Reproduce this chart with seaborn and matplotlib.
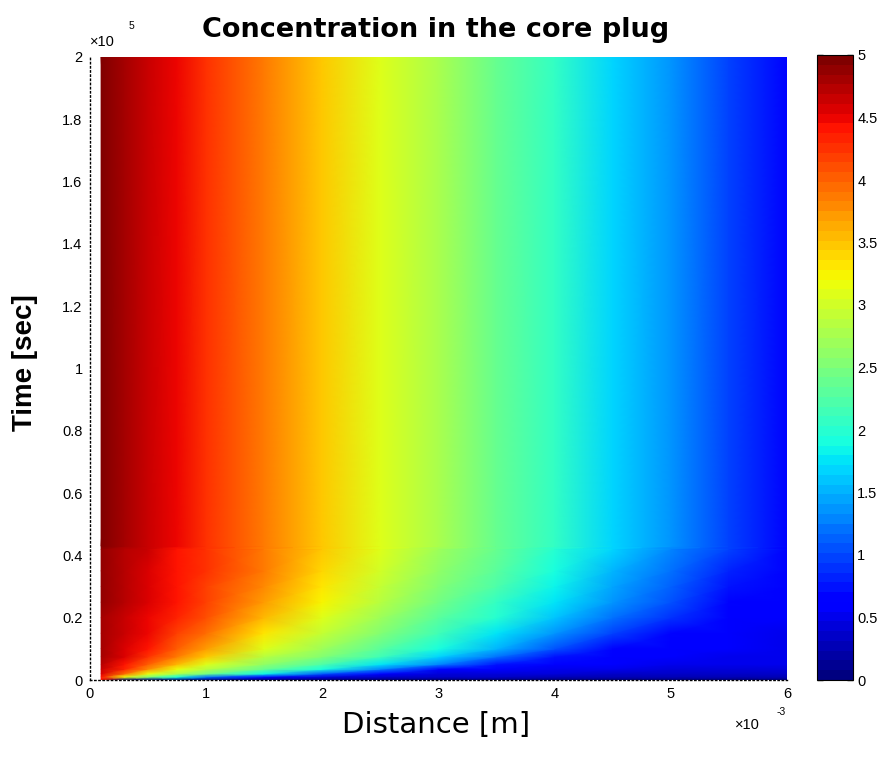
import numpy as np
import matplotlib
matplotlib.use("Agg")
import matplotlib.pyplot as plt
from matplotlib.colors import ListedColormap
import seaborn as sns

# ---------------- data ----------------
# distance nodes [m]
distance_m = [0.1e-3, 0.3e-3, 0.5e-3, 0.75e-3, 1.0e-3, 1.5e-3, 2.0e-3, 2.5e-3,
              3.0e-3, 3.5e-3, 4.0e-3, 4.5e-3, 5.0e-3, 5.5e-3, 6.0e-3]
# time nodes [s]
time_s = [0, 1000, 2000, 3500, 5000, 7500, 10000, 15000, 20000, 25000,
          30000, 35000, 42000, 43000, 200000]
# concentration, one row per time node, one column per distance node
conc = [
    [4.40, 0.00, 0.00, 0.00, 0.00, 0.00, 0.00, 0.00, 0.00, 0.00, 0.00, 0.00, 0.00, 0.00, 0.00],
    [4.45, 3.13, 2.57, 1.88, 1.18, 0.55, 0.40, 0.36, 0.34, 0.32, 0.30, 0.29, 0.28, 0.27, 0.26],
    [4.54, 3.96, 3.13, 2.80, 2.47, 1.80, 1.02, 0.55, 0.45, 0.42, 0.40, 0.38, 0.36, 0.35, 0.34],
    [4.64, 4.30, 3.78, 3.13, 2.88, 2.38, 1.88, 1.25, 0.66, 0.55, 0.50, 0.47, 0.45, 0.43, 0.42],
    [4.71, 4.42, 4.03, 3.53, 3.08, 2.65, 2.22, 1.77, 1.25, 0.75, 0.60, 0.55, 0.52, 0.50, 0.48],
    [4.78, 4.54, 4.26, 3.86, 3.45, 2.89, 2.50, 2.11, 1.68, 1.20, 0.72, 0.62, 0.57, 0.54, 0.50],
    [4.80, 4.59, 4.38, 4.03, 3.68, 3.05, 2.67, 2.29, 1.91, 1.50, 1.08, 0.67, 0.60, 0.56, 0.52],
    [4.81, 4.64, 4.46, 4.20, 3.92, 3.35, 2.90, 2.52, 2.14, 1.76, 1.38, 1.00, 0.63, 0.58, 0.54],
    [4.83, 4.68, 4.53, 4.32, 4.07, 3.56, 3.07, 2.70, 2.33, 1.96, 1.60, 1.24, 0.88, 0.60, 0.55],
    [4.85, 4.70, 4.56, 4.38, 4.15, 3.69, 3.22, 2.83, 2.46, 2.10, 1.73, 1.38, 1.02, 0.68, 0.56],
    [4.86, 4.72, 4.58, 4.41, 4.20, 3.77, 3.34, 2.94, 2.57, 2.21, 1.84, 1.48, 1.13, 0.77, 0.57],
    [4.88, 4.74, 4.60, 4.43, 4.24, 3.83, 3.42, 3.02, 2.65, 2.28, 1.91, 1.55, 1.20, 0.84, 0.58],
    [4.90, 4.76, 4.62, 4.45, 4.26, 3.86, 3.46, 3.06, 2.71, 2.36, 2.01, 1.66, 1.31, 0.96, 0.62],
    [4.93, 4.79, 4.65, 4.47, 4.29, 3.89, 3.49, 3.09, 2.75, 2.40, 2.06, 1.71, 1.36, 1.00, 0.65],
    [4.93, 4.79, 4.65, 4.47, 4.29, 3.89, 3.49, 3.09, 2.75, 2.40, 2.06, 1.71, 1.36, 1.00, 0.65],
]
x_ticks_m = [0, 1e-3, 2e-3, 3e-3, 4e-3, 5e-3, 6e-3]
x_tick_labels = ["0", "1", "2", "3", "4", "5", "6"]
y_ticks_s = [0, 20000, 40000, 60000, 80000, 100000, 120000, 140000, 160000, 180000, 200000]
y_tick_labels = ["0", "0.2", "0.4", "0.6", "0.8", "1", "1.2", "1.4", "1.6", "1.8", "2"]
cbar_ticks = [0, 0.5, 1, 1.5, 2, 2.5, 3, 3.5, 4, 4.5, 5]
cbar_tick_labels = ["0", "0.5", "1", "1.5", "2", "2.5", "3", "3.5", "4", "4.5", "5"]

# ---------------- style ----------------
sns.set_style("white")
plt.rcParams["font.family"] = ["Liberation Sans", "DejaVu Sans"]
plt.rcParams["text.color"] = "black"
plt.rcParams["axes.labelcolor"] = "black"
plt.rcParams["xtick.color"] = "black"
plt.rcParams["ytick.color"] = "black"

W, H = 889, 760
fig = plt.figure(figsize=(W / 100, H / 100), dpi=100)
fig.patch.set_facecolor("white")

def px(x, y):
    return x / W, 1 - y / H

ax_left, ax_right, ax_top, ax_bot = 89.5, 787.0, 57.0, 680.0
ax = fig.add_axes([ax_left / W, 1 - ax_bot / H, (ax_right - ax_left) / W, (ax_bot - ax_top) / H])
cb_left, cb_right = 817.0, 853.0
cax = fig.add_axes([cb_left / W, 1 - ax_bot / H, (cb_right - cb_left) / W, (ax_bot - 55.0) / H])

# MATLAB-like 64-level jet
cmap = ListedColormap(plt.get_cmap("jet")(np.linspace(0, 1, 64)))

X, T = np.meshgrid(np.array(distance_m), np.array(time_s))
C = np.array(conc)
mesh = ax.pcolormesh(X, T, C, shading="gouraud", cmap=cmap, vmin=0, vmax=5,
                     rasterized=True)

ax.set_xlim(0, 6e-3)
ax.set_ylim(0, 2e5)
ax.set_axisbelow(True)
ax.set_xticks(x_ticks_m)
ax.set_xticklabels(x_tick_labels)
ax.set_yticks(y_ticks_s)
ax.set_yticklabels(y_tick_labels)
ax.tick_params(direction="in", length=5, width=1, labelsize=10.5, pad=5, colors="black")
ax.grid(False)
for s in ["top", "right"]:
    ax.spines[s].set_visible(False)
for s in ["left", "bottom"]:
    ax.spines[s].set_linestyle((0, (1, 2)))
    ax.spines[s].set_color("black")
    ax.spines[s].set_linewidth(1.0)

cb = fig.colorbar(mesh, cax=cax, ticks=cbar_ticks)
cb.ax.set_yticklabels(cbar_tick_labels)
cb.outline.set_edgecolor("black")
cb.outline.set_linewidth(0.8)
cb.ax.tick_params(which="both", direction="in", left=True, right=True,
                  length=4, width=1, labelsize=10.5, pad=3, colors="black")
cb.ax.minorticks_off()

# ---------------- texts ----------------
fig.text(*px(436, 37), "Concentration in the core plug", ha="center", va="baseline",
         fontsize=19.5, fontweight="bold", family="DejaVu Sans", color="black")
fig.text(*px(436, 733), "Distance [m]", ha="center", va="baseline", fontsize=21,
         family="DejaVu Sans", color="black")
fig.text(*px(25, 363), "Time [sec]", ha="center", va="center", rotation=90,
         fontsize=20, fontweight="bold", color="black")
# exponent labels (MATLAB style)
fig.text(*px(90, 42), "\u00d710", ha="left", va="center", fontsize=10.5)
fig.text(*px(129, 26), "5", ha="left", va="center", fontsize=7.5)
fig.text(*px(735, 725), "\u00d710", ha="left", va="center", fontsize=10.5)
fig.text(*px(777, 712), "-3", ha="left", va="center", fontsize=7.5)

fig.savefig("out.png", dpi=100, facecolor="white")
